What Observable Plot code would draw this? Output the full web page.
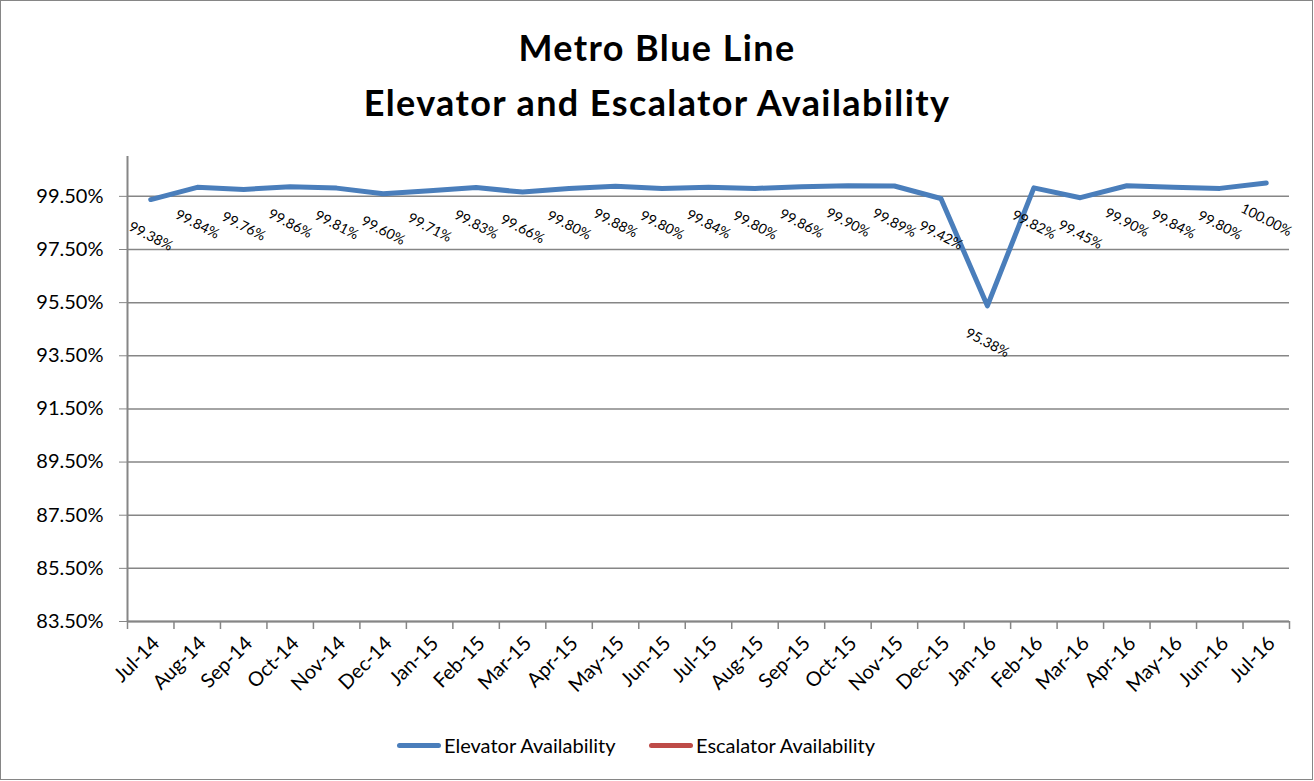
<!DOCTYPE html>
<html>
<head>
<meta charset="utf-8">
<script src="https://cdn.jsdelivr.net/npm/d3@7"></script>
<script src="https://cdn.jsdelivr.net/npm/@observablehq/plot@0.6"></script>
<style>
  html, body { margin: 0; padding: 0; background: #fff; }
  #frame { position: absolute; left: 0; top: 0; width: 1313px; height: 780px; box-sizing: border-box; border: 1px solid #868686; }
  #title { position: absolute; left: 0; top: 20px; width: 1314px; text-align: center; font-family: Lato, "Open Sans", sans-serif; font-weight: bold; font-size: 36px; letter-spacing: 1.4px; line-height: 55px; color: #000; }
  #chart { position: absolute; left: 0; top: 130px; }
  #legend { position: absolute; left: 0; top: 730px; width: 1314px; height: 30px; font-family: Lato, "Open Sans", sans-serif; font-size: 20px; color: #000; }
  .item { position: absolute; top: 0; display: flex; align-items: center; height: 30px; }
  .sw { width: 44px; height: 5px; border-radius: 3px; margin-right: 3px; }
</style>
</head>
<body>
<div id="frame"></div>
<div id="title"></div>
<div id="chart"></div>
<div id="legend"></div>
<script>
const titleLines = ["Metro Blue Line", "Elevator and Escalator Availability"];
const months = ["Jul-14","Aug-14","Sep-14","Oct-14","Nov-14","Dec-14","Jan-15","Feb-15","Mar-15","Apr-15","May-15","Jun-15","Jul-15","Aug-15","Sep-15","Oct-15","Nov-15","Dec-15","Jan-16","Feb-16","Mar-16","Apr-16","May-16","Jun-16","Jul-16"];
const elevator = [99.38,99.84,99.76,99.86,99.81,99.60,99.71,99.83,99.66,99.80,99.88,99.80,99.84,99.80,99.86,99.90,99.89,99.42,95.38,99.82,99.45,99.90,99.84,99.80,100.00];
const escalator = []; // no values shown in the chart
const seriesNames = ["Elevator Availability", "Escalator Availability"];
const seriesColors = ["#4A7EBB", "#BE4B48"];
const yTicks = [83.5, 85.5, 87.5, 89.5, 91.5, 93.5, 95.5, 97.5, 99.5];
const yDomain = [83.5, 101];

document.getElementById("title").innerHTML = titleLines.map(t => `<div>${t}</div>`).join("");

const data = months.map((m, i) => ({i: i + 0.5, month: m, value: elevator[i]}));
const gray = "#868686";

const chart = Plot.plot({
  width: 1314,
  height: 590,
  marginLeft: 127,
  marginRight: 25,
  marginTop: 26,
  marginBottom: 99,
  style: {fontFamily: "Lato, 'Open Sans', sans-serif", fontSize: "20px", color: "#000", background: "transparent"},
  x: {type: "linear", domain: [0, months.length]},
  y: {domain: yDomain},
  marks: [
    Plot.gridY(yTicks, {stroke: gray, strokeOpacity: 1, strokeWidth: 1.5}),
    Plot.axisY(yTicks, {tickSize: 8, tickPadding: 16, tickFormat: d => d.toFixed(2) + "%", stroke: gray, fontSize: 20, label: null}),
    Plot.ruleX([0], {y1: yDomain[0], y2: yDomain[1], stroke: gray, strokeWidth: 2}),
    Plot.ruleY([yDomain[0]], {stroke: gray, strokeWidth: 2}),
    Plot.axisX(d3.range(months.length + 1), {tickSize: 8, stroke: gray, strokeWidth: 1.5, tickFormat: () => "", label: null}),
    Plot.axisX(data.map(d => d.i), {tickSize: 0, tickPadding: 13, rotate: -45, textAnchor: "end", tickFormat: d => months[Math.floor(d)], fontSize: 20, label: null}),
    Plot.line(data, {x: "i", y: "value", stroke: seriesColors[0], strokeWidth: 5, strokeLinejoin: "round", strokeLinecap: "round"}),
    Plot.text(data, {x: "i", y: "value", text: d => d.value.toFixed(2) + "%", dy: 37, rotate: 27, fontSize: 14, fill: "#000"})
  ]
});
document.getElementById("chart").appendChild(chart);

const legend = document.getElementById("legend");
const lefts = [397, 649];
seriesNames.forEach((name, k) => {
  const el = document.createElement("div");
  el.className = "item";
  el.style.left = lefts[k] + "px";
  el.innerHTML = `<div class="sw" style="background:${seriesColors[k]}"></div><span>${name}</span>`;
  legend.appendChild(el);
});
</script>
</body>
</html>
